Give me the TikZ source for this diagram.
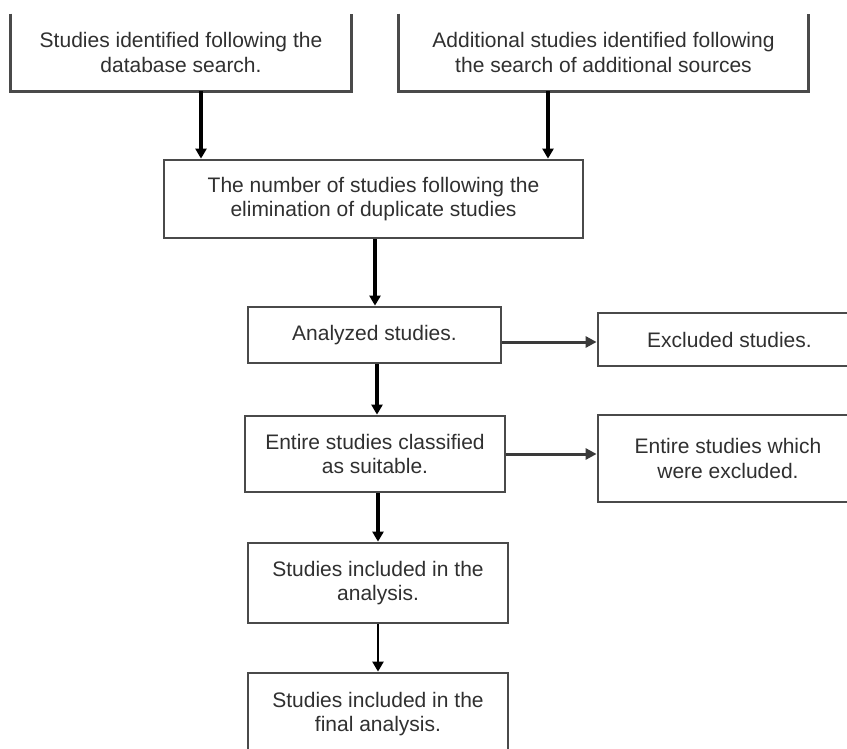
\documentclass[tikz,border=0pt]{standalone}
\usepackage{fontspec}
\setmainfont{Liberation Sans}
\usetikzlibrary{arrows.meta}
\definecolor{boxline}{HTML}{4A4A4A}
\definecolor{txt}{HTML}{303030}
\definecolor{sideline}{HTML}{3A3A3A}
\begin{document}
\begin{tikzpicture}[x=1pt,y=-1pt,
  box/.style={draw=boxline,line width=2.8pt,rectangle,inner sep=0pt,align=center,
    text=txt,font=\fontsize{21}{24.5}\selectfont},
  openbox/.style={box,draw=none},
  mainarr/.style={draw=black,line width=3.6pt,-{Triangle[length=10pt,width=11pt]}},
  thinarr/.style={draw=black,line width=2.4pt,-{Triangle[length=10pt,width=11pt]}},
  sidearr/.style={draw=sideline,line width=3pt,-{Triangle[length=11pt,width=11pt]}}]
\useasboundingbox (0,0) rectangle (847,749);
\clip (0,0) rectangle (847,749);
\fill[white] (0,0) rectangle (847,749);

\node[openbox,minimum width=338pt,minimum height=75pt] (b1) at (181,52.5)
  {Studies identified following the\\database search.};
\node[openbox,minimum width=407pt,minimum height=75pt] (b2) at (603.5,52.5)
  {Additional studies identified following\\the search of additional sources};
\draw[boxline,line width=2.8pt] (b1.north west) -- (b1.south west) -- (b1.south east) -- (b1.north east);
\draw[boxline,line width=2.8pt] (b2.north west) -- (b2.south west) -- (b2.south east) -- (b2.north east);

\node[box,minimum width=419pt,minimum height=78pt] (b3) at (373.5,199)
  {The number of studies following the\\elimination of duplicate studies};
\node[box,minimum width=253pt,minimum height=56pt] (b4) at (374.5,335)
  {Analyzed studies.};
\node[box,minimum width=263pt,minimum height=53pt] (e1) at (729.5,339.5)
  {Excluded studies.};
\node[box,minimum width=260pt,minimum height=76pt] (b5) at (375,454)
  {Entire studies classified\\as suitable.};
\node[box,minimum width=260pt,minimum height=87pt] (e2) at (728,458.5)
  {Entire studies which\\were excluded.};
\node[box,minimum width=260pt,minimum height=80pt] (b6) at (378,583)
  {Studies included in the\\analysis.};
\node[box,minimum width=260pt,minimum height=82pt] (b7) at (378,714)
  {Studies included in the\\final analysis.};

\draw[mainarr] ([xshift=20pt]b1.south) -- ([xshift=20pt]b1.south |- b3.north);
\draw[mainarr] ([xshift=-55.5pt]b2.south) -- ([xshift=-55.5pt]b2.south |- b3.north);
\draw[mainarr] ([xshift=1.5pt]b3.south) -- ([xshift=1.5pt]b3.south |- b4.north);
\draw[mainarr] ([xshift=2.5pt]b4.south) -- ([xshift=2.5pt]b4.south |- b5.north);
\draw[mainarr] ([xshift=3pt]b5.south) -- ([xshift=3pt]b5.south |- b6.north);
\draw[thinarr] (b6.south) -- (b6.south |- b7.north);
\draw[sidearr] ([yshift=-7pt]b4.east) -- ([yshift=-7pt]b4.east -| e1.west);
\draw[sidearr] (b5.east) -- (b5.east -| e2.west);
\end{tikzpicture}
\end{document}
